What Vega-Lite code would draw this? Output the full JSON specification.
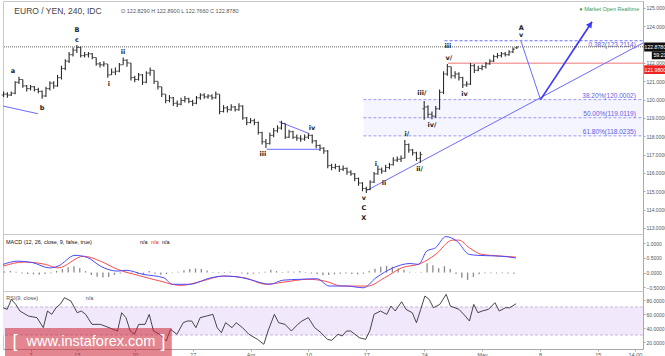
{
"$schema":"https://vega.github.io/schema/vega-lite/v6.json",
"padding":0,
"spacing":0,
"bounds":"flush",
"background":"white",
"config":{
 "font":"Liberation Sans",
 "view":{"stroke":"#c8c8c8","strokeWidth":1},
 "axis":{"labelFont":"Liberation Sans","labelFontSize":5,"labelColor":"#555","domainColor":"#aaa","tickColor":"#aaa","tickSize":2,"labelPadding":1,"grid":false,"zindex":0,"labelOverlap":false,"labelBound":false,"tickCount":50}
},
"datasets":{
 "ohlc":[
{"t":-1.33,"o":120.25,"h":120.45,"l":120.15,"c":120.30},
{"t":-1.00,"o":120.30,"h":120.40,"l":120.10,"c":120.25},
{"t":-0.67,"o":120.25,"h":120.45,"l":120.20,"c":120.35},
{"t":-0.33,"o":120.35,"h":121.00,"l":120.30,"c":120.95},
{"t":0.00,"o":120.95,"h":121.25,"l":120.85,"c":121.10},
{"t":0.33,"o":121.10,"h":121.10,"l":120.65,"c":120.75},
{"t":0.67,"o":120.75,"h":120.80,"l":120.45,"c":120.60},
{"t":1.00,"o":120.60,"h":120.80,"l":120.50,"c":120.70},
{"t":1.33,"o":120.70,"h":120.75,"l":120.45,"c":120.55},
{"t":1.67,"o":120.55,"h":120.65,"l":120.35,"c":120.45},
{"t":2.00,"o":120.45,"h":120.50,"l":120.05,"c":120.20},
{"t":2.33,"o":120.20,"h":120.70,"l":120.15,"c":120.60},
{"t":2.67,"o":120.60,"h":121.00,"l":120.50,"c":120.90},
{"t":3.00,"o":120.90,"h":121.00,"l":120.60,"c":120.75},
{"t":3.33,"o":120.75,"h":121.35,"l":120.70,"c":121.20},
{"t":3.67,"o":121.20,"h":121.85,"l":121.10,"c":121.70},
{"t":4.00,"o":121.70,"h":122.20,"l":121.60,"c":122.10},
{"t":4.33,"o":122.10,"h":122.60,"l":122.00,"c":122.45},
{"t":4.67,"o":122.45,"h":122.85,"l":122.35,"c":122.70},
{"t":5.00,"o":122.70,"h":122.98,"l":122.55,"c":122.85},
{"t":5.33,"o":122.85,"h":122.90,"l":122.30,"c":122.40},
{"t":5.67,"o":122.40,"h":122.60,"l":122.30,"c":122.45},
{"t":6.00,"o":122.45,"h":122.60,"l":122.30,"c":122.50},
{"t":6.33,"o":122.50,"h":122.55,"l":122.20,"c":122.30},
{"t":6.67,"o":122.30,"h":122.30,"l":121.85,"c":121.95},
{"t":7.00,"o":121.95,"h":122.05,"l":121.75,"c":121.90},
{"t":7.33,"o":121.90,"h":122.10,"l":121.80,"c":121.95},
{"t":7.67,"o":121.95,"h":121.95,"l":121.20,"c":121.35},
{"t":8.00,"o":121.35,"h":121.70,"l":121.35,"c":121.50},
{"t":8.33,"o":121.50,"h":121.75,"l":121.35,"c":121.55},
{"t":8.67,"o":121.55,"h":122.00,"l":121.50,"c":121.90},
{"t":9.00,"o":121.90,"h":122.30,"l":121.90,"c":122.15},
{"t":9.33,"o":122.15,"h":122.20,"l":121.80,"c":122.00},
{"t":9.67,"o":122.00,"h":122.00,"l":121.05,"c":121.20},
{"t":10.00,"o":121.20,"h":121.30,"l":120.95,"c":121.10},
{"t":10.33,"o":121.10,"h":121.45,"l":121.05,"c":121.35},
{"t":10.67,"o":121.35,"h":121.40,"l":120.80,"c":120.95},
{"t":11.00,"o":120.95,"h":121.55,"l":120.90,"c":121.45},
{"t":11.33,"o":121.45,"h":121.75,"l":121.30,"c":121.60},
{"t":11.67,"o":121.60,"h":121.60,"l":120.85,"c":121.00},
{"t":12.00,"o":121.00,"h":121.00,"l":120.55,"c":120.70},
{"t":12.33,"o":120.70,"h":120.70,"l":120.15,"c":120.30},
{"t":12.67,"o":120.30,"h":120.30,"l":119.80,"c":119.95},
{"t":13.00,"o":119.95,"h":120.25,"l":119.85,"c":120.10},
{"t":13.33,"o":120.10,"h":120.15,"l":119.65,"c":119.80},
{"t":13.67,"o":119.80,"h":119.95,"l":119.60,"c":119.75},
{"t":14.00,"o":119.75,"h":120.10,"l":119.70,"c":119.95},
{"t":14.33,"o":119.95,"h":120.20,"l":119.85,"c":120.05},
{"t":14.67,"o":120.05,"h":120.10,"l":119.80,"c":119.90},
{"t":15.00,"o":119.90,"h":120.00,"l":119.65,"c":119.80},
{"t":15.33,"o":119.80,"h":120.20,"l":119.75,"c":120.10},
{"t":15.67,"o":120.10,"h":120.35,"l":120.00,"c":120.25},
{"t":16.00,"o":120.25,"h":120.35,"l":120.05,"c":120.15},
{"t":16.33,"o":120.15,"h":120.30,"l":120.05,"c":120.20},
{"t":16.67,"o":120.20,"h":120.30,"l":120.00,"c":120.10},
{"t":17.00,"o":120.10,"h":120.45,"l":120.05,"c":120.30},
{"t":17.33,"o":120.30,"h":120.30,"l":119.20,"c":119.35},
{"t":17.67,"o":119.35,"h":119.70,"l":119.30,"c":119.55},
{"t":18.00,"o":119.55,"h":119.65,"l":119.30,"c":119.45},
{"t":18.33,"o":119.45,"h":119.75,"l":119.40,"c":119.60},
{"t":18.67,"o":119.60,"h":119.65,"l":119.35,"c":119.45},
{"t":19.00,"o":119.45,"h":119.80,"l":119.40,"c":119.65},
{"t":19.33,"o":119.65,"h":119.70,"l":118.90,"c":119.00},
{"t":19.67,"o":119.00,"h":119.05,"l":118.60,"c":118.75},
{"t":20.00,"o":118.75,"h":119.00,"l":118.70,"c":118.85},
{"t":20.33,"o":118.85,"h":118.95,"l":118.60,"c":118.75},
{"t":20.67,"o":118.75,"h":118.80,"l":118.10,"c":118.20},
{"t":21.00,"o":118.20,"h":118.25,"l":117.55,"c":117.70},
{"t":21.33,"o":117.70,"h":117.85,"l":117.36,"c":117.60},
{"t":21.67,"o":117.60,"h":118.20,"l":117.55,"c":118.05},
{"t":22.00,"o":118.05,"h":118.45,"l":117.95,"c":118.30},
{"t":22.33,"o":118.30,"h":118.60,"l":118.20,"c":118.45},
{"t":22.67,"o":118.45,"h":118.85,"l":118.35,"c":118.70},
{"t":23.00,"o":118.70,"h":118.70,"l":117.85,"c":117.95},
{"t":23.33,"o":117.95,"h":118.35,"l":117.90,"c":118.25},
{"t":23.67,"o":118.25,"h":118.30,"l":117.85,"c":117.95},
{"t":24.00,"o":117.95,"h":118.10,"l":117.75,"c":117.90},
{"t":24.33,"o":117.90,"h":118.05,"l":117.70,"c":117.85},
{"t":24.67,"o":117.85,"h":118.10,"l":117.75,"c":117.95},
{"t":25.00,"o":117.95,"h":118.15,"l":117.85,"c":118.05},
{"t":25.33,"o":118.05,"h":118.10,"l":117.60,"c":117.75},
{"t":25.67,"o":117.75,"h":117.80,"l":117.35,"c":117.50},
{"t":26.00,"o":117.50,"h":117.55,"l":117.20,"c":117.35},
{"t":26.33,"o":117.35,"h":117.40,"l":117.05,"c":117.20},
{"t":26.67,"o":117.20,"h":117.25,"l":116.25,"c":116.40},
{"t":27.00,"o":116.40,"h":116.50,"l":116.15,"c":116.30},
{"t":27.33,"o":116.30,"h":116.50,"l":116.20,"c":116.35},
{"t":27.67,"o":116.35,"h":116.40,"l":116.05,"c":116.20},
{"t":28.00,"o":116.20,"h":116.40,"l":116.10,"c":116.25},
{"t":28.33,"o":116.25,"h":116.30,"l":115.90,"c":116.05},
{"t":28.67,"o":116.05,"h":116.15,"l":115.85,"c":115.95},
{"t":29.00,"o":115.95,"h":116.00,"l":115.55,"c":115.70},
{"t":29.33,"o":115.70,"h":115.75,"l":115.30,"c":115.45},
{"t":29.67,"o":115.45,"h":115.50,"l":115.00,"c":115.15},
{"t":30.00,"o":115.15,"h":115.25,"l":114.90,"c":115.10},
{"t":30.33,"o":115.10,"h":115.60,"l":115.05,"c":115.50},
{"t":30.67,"o":115.50,"h":116.05,"l":115.45,"c":115.95},
{"t":31.00,"o":115.95,"h":116.40,"l":115.90,"c":116.20},
{"t":31.33,"o":116.20,"h":116.30,"l":115.95,"c":116.10},
{"t":31.67,"o":116.10,"h":116.45,"l":116.05,"c":116.30},
{"t":32.00,"o":116.30,"h":116.55,"l":116.20,"c":116.45},
{"t":32.33,"o":116.45,"h":116.85,"l":116.40,"c":116.70},
{"t":32.67,"o":116.70,"h":116.90,"l":116.60,"c":116.75},
{"t":33.00,"o":116.75,"h":116.95,"l":116.60,"c":116.80},
{"t":33.33,"o":116.80,"h":117.80,"l":116.80,"c":117.55},
{"t":33.67,"o":117.55,"h":117.60,"l":117.10,"c":117.25},
{"t":34.00,"o":117.25,"h":117.30,"l":116.95,"c":117.10},
{"t":34.33,"o":117.10,"h":117.15,"l":116.65,"c":116.80},
{"t":34.67,"o":116.80,"h":117.15,"l":116.55,"c":117.00},
{"t":35.00,"o":119.50,"h":119.93,"l":118.90,"c":119.60},
{"t":35.33,"o":119.60,"h":119.70,"l":119.00,"c":119.20},
{"t":35.67,"o":119.20,"h":119.35,"l":118.93,"c":119.10},
{"t":36.00,"o":119.10,"h":119.65,"l":119.00,"c":119.50},
{"t":36.33,"o":119.50,"h":120.55,"l":119.45,"c":120.40},
{"t":36.67,"o":120.40,"h":121.55,"l":120.30,"c":121.40},
{"t":37.00,"o":121.40,"h":121.95,"l":121.30,"c":121.80},
{"t":37.33,"o":121.80,"h":121.80,"l":121.15,"c":121.30},
{"t":37.67,"o":121.30,"h":121.55,"l":121.15,"c":121.40},
{"t":38.00,"o":121.40,"h":121.50,"l":121.05,"c":121.20},
{"t":38.33,"o":121.20,"h":121.25,"l":120.64,"c":120.80},
{"t":38.67,"o":120.80,"h":121.00,"l":120.70,"c":120.85},
{"t":39.00,"o":120.85,"h":122.00,"l":120.80,"c":121.85},
{"t":39.33,"o":121.85,"h":121.95,"l":121.45,"c":121.60},
{"t":39.67,"o":121.60,"h":121.85,"l":121.55,"c":121.70},
{"t":40.00,"o":121.70,"h":121.90,"l":121.60,"c":121.80},
{"t":40.33,"o":121.80,"h":122.05,"l":121.70,"c":121.95},
{"t":40.67,"o":121.95,"h":122.20,"l":121.90,"c":122.10},
{"t":41.00,"o":122.10,"h":122.45,"l":122.05,"c":122.35},
{"t":41.33,"o":122.35,"h":122.55,"l":122.25,"c":122.40},
{"t":41.67,"o":122.40,"h":122.60,"l":122.30,"c":122.50},
{"t":42.00,"o":122.50,"h":122.60,"l":122.35,"c":122.45},
{"t":42.33,"o":122.45,"h":122.70,"l":122.40,"c":122.60},
{"t":42.67,"o":122.60,"h":122.85,"l":122.55,"c":122.75},
{"t":43.00,"o":122.829,"h":122.89,"l":122.766,"c":122.878}
 ],
 "trend":[
{"id":"a","t":-1.38,"p":119.65},{"id":"a","t":1.64,"p":119.23},
{"id":"b","t":22.45,"p":118.8},{"id":"b","t":25.1,"p":118.14},
{"id":"c","t":21.4,"p":117.29},{"id":"c","t":25.97,"p":117.29},
{"id":"d","t":29.97,"p":115.02},{"id":"d","t":53.9,"p":123.09},
{"id":"e","t":43.35,"p":123.21},{"id":"e","t":45.05,"p":120.0}
 ],
 "arrow":[{"t":45.05,"p":120.0},{"t":49.5,"p":124.25}],
 "arrowhead":[{"t":49.35,"p":124.11}],
 "fib":[
{"t":29.75,"t2":53.9,"p":120.0002,"tl":53.28,"lab":"38.20%(120.0002)"},
{"t":29.75,"t2":53.9,"p":119.0119,"tl":53.28,"lab":"50.00%(119.0119)"},
{"t":29.75,"t2":53.9,"p":118.0235,"tl":53.28,"lab":"61.80%(118.0235)"}
 ],
 "fibband":[{"t":29.75,"t2":53.9,"p":118.0235,"p2":120.0002}],
 "fib382":[{"t":36.76,"t2":53.9,"p":123.2114,"tl":53.28,"lab":"0.382(123.2114)"}],
 "redline":[{"t":37.05,"t2":53.9,"p":121.98}],
 "curline":[{"p":122.878}],
 "waves":[
{"t":-0.52,"p":121.56,"txt":"a"},{"t":1.99,"p":119.54,"txt":"b"},
{"t":5.01,"p":123.8,"txt":"B"},{"t":5.01,"p":123.25,"txt":"c"},
{"t":7.77,"p":120.87,"txt":"i"},{"t":8.98,"p":122.6,"txt":"ii"},
{"t":21.07,"p":117.05,"txt":"iii"},{"t":25.3,"p":118.45,"txt":"iv"},
{"t":29.79,"p":114.63,"txt":"v"},{"t":29.79,"p":114.09,"txt":"C"},{"t":29.79,"p":113.54,"txt":"X"},
{"t":30.83,"p":116.49,"txt":"i"},{"t":31.52,"p":115.45,"txt":"ii"},
{"t":33.5,"p":118.13,"txt":"i/"},{"t":34.6,"p":116.22,"txt":"ii/"},
{"t":34.8,"p":120.36,"txt":"iii/"},{"t":35.67,"p":118.62,"txt":"iv/"},
{"t":37.13,"p":122.26,"txt":"v/"},{"t":37.05,"p":122.93,"txt":"iii"},
{"t":38.49,"p":120.29,"txt":"iv"},
{"t":43.38,"p":123.89,"txt":"A"},{"t":43.38,"p":123.51,"txt":"v"}
 ],
 "boxes":[
{"t":54.0,"t2":57.0,"p":122.63,"p2":123.11,"tl":54.03,"pm":122.87,"txt":"122.8780","kind":"black"},
{"t":54.66,"t2":57.0,"p":122.2,"p2":122.63,"tl":54.8,"pm":122.42,"txt":"59:21","kind":"black"},
{"t":54.0,"t2":57.0,"p":121.4,"p2":121.88,"tl":54.03,"pm":121.64,"txt":"121.9800","kind":"red"}
 ],
 "macd":[
{"t":-1.38,"v":0.28},{"t":-0.1,"v":0.39},{"t":1.18,"v":0.34},{"t":2.64,"v":0.16},{"t":3.37,"v":0.22},{"t":4.84,"v":0.59},{"t":5.94,"v":0.51},{"t":7.04,"v":0.22},{"t":8.51,"v":0.05},{"t":9.24,"v":0.08},{"t":10.71,"v":-0.06},{"t":12.52,"v":-0.18},{"t":13.26,"v":-0.40},{"t":14.73,"v":-0.40},{"t":16.56,"v":-0.18},{"t":17.66,"v":-0.12},{"t":18.74,"v":-0.14},{"t":19.86,"v":-0.23},{"t":21.68,"v":-0.40},{"t":22.8,"v":-0.26},{"t":24.27,"v":-0.23},{"t":25.73,"v":-0.21},{"t":26.81,"v":-0.46},{"t":28.28,"v":-0.46},{"t":29.75,"v":-0.52},{"t":30.83,"v":-0.18},{"t":32.3,"v":0.16},{"t":33.77,"v":0.31},{"t":34.51,"v":0.28},{"t":35.23,"v":0.74},{"t":35.98,"v":0.85},{"t":36.87,"v":1.23},{"t":37.81,"v":1.08},{"t":38.9,"v":0.62},{"t":39.64,"v":0.59},{"t":41.11,"v":0.57},{"t":42.2,"v":0.54},{"t":42.92,"v":0.50}
 ],
 "signal":[
{"t":-1.38,"v":0.22},{"t":0.43,"v":0.36},{"t":2.28,"v":0.28},{"t":3.37,"v":0.16},{"t":5.58,"v":0.56},{"t":7.04,"v":0.39},{"t":8.51,"v":0.11},{"t":10.34,"v":-0.10},{"t":12.18,"v":-0.29},{"t":13.99,"v":-0.44},{"t":15.8,"v":-0.29},{"t":17.66,"v":-0.12},{"t":19.49,"v":-0.18},{"t":21.33,"v":-0.40},{"t":22.8,"v":-0.33},{"t":24.96,"v":-0.23},{"t":26.42,"v":-0.29},{"t":27.89,"v":-0.46},{"t":30.11,"v":-0.46},{"t":31.58,"v":-0.18},{"t":33.04,"v":0.16},{"t":34.69,"v":0.31},{"t":35.98,"v":0.62},{"t":37.44,"v":1.11},{"t":38.0,"v":1.11},{"t":38.9,"v":0.85},{"t":39.98,"v":0.62},{"t":41.45,"v":0.57},{"t":42.92,"v":0.53}
 ],
 "hist":[
{"t":-1.25,"v":0.04},{"t":-0.75,"v":0.05},{"t":-0.25,"v":0.03},{"t":0.25,"v":-0.03},{"t":0.75,"v":-0.05},{"t":1.25,"v":-0.06},{"t":1.75,"v":-0.07},{"t":2.25,"v":-0.05},{"t":2.75,"v":-0.02},{"t":3.25,"v":0.06},{"t":3.75,"v":0.12},{"t":4.25,"v":0.18},{"t":4.75,"v":0.22},{"t":5.25,"v":0.15},{"t":5.75,"v":0.05},{"t":6.25,"v":-0.08},{"t":6.75,"v":-0.14},{"t":7.25,"v":-0.17},{"t":7.75,"v":-0.15},{"t":8.25,"v":-0.08},{"t":8.75,"v":-0.03},{"t":9.25,"v":0.03},{"t":9.75,"v":-0.02},{"t":10.25,"v":-0.05},{"t":10.75,"v":-0.06},{"t":11.25,"v":0.05},{"t":11.75,"v":-0.04},{"t":12.25,"v":-0.07},{"t":12.75,"v":-0.05},{"t":13.25,"v":-0.02},{"t":13.75,"v":0.03},{"t":14.25,"v":0.08},{"t":14.75,"v":0.12},{"t":15.25,"v":0.14},{"t":15.75,"v":0.12},{"t":16.25,"v":0.07},{"t":16.75,"v":0.02},{"t":17.25,"v":-0.02},{"t":17.75,"v":0.02},{"t":18.25,"v":0.03},{"t":18.75,"v":0.01},{"t":19.25,"v":-0.03},{"t":19.75,"v":-0.06},{"t":20.25,"v":-0.04},{"t":20.75,"v":-0.02},{"t":21.25,"v":0.03},{"t":21.75,"v":0.10},{"t":22.25,"v":0.05},{"t":22.75,"v":0.02},{"t":23.25,"v":0.04},{"t":23.75,"v":0.03},{"t":24.25,"v":0.05},{"t":24.75,"v":0.02},{"t":25.25,"v":-0.03},{"t":25.75,"v":-0.06},{"t":26.25,"v":-0.09},{"t":26.75,"v":-0.08},{"t":27.25,"v":-0.06},{"t":27.75,"v":-0.04},{"t":28.25,"v":-0.03},{"t":28.75,"v":-0.05},{"t":29.25,"v":-0.06},{"t":29.75,"v":-0.04},{"t":30.25,"v":0.05},{"t":30.75,"v":0.13},{"t":31.25,"v":0.20},{"t":31.75,"v":0.23},{"t":32.25,"v":0.20},{"t":32.75,"v":0.14},{"t":33.25,"v":0.10},{"t":33.75,"v":0.03},{"t":34.25,"v":-0.01},{"t":34.75,"v":0.02},{"t":35.25,"v":0.32},{"t":35.75,"v":0.25},{"t":36.25,"v":0.15},{"t":36.75,"v":0.22},{"t":37.25,"v":0.12},{"t":37.75,"v":-0.05},{"t":38.25,"v":-0.18},{"t":38.75,"v":-0.25},{"t":39.25,"v":-0.15},{"t":39.75,"v":-0.06},{"t":40.25,"v":-0.02},{"t":40.75,"v":-0.02},{"t":41.25,"v":-0.03},{"t":41.75,"v":-0.02},{"t":42.25,"v":-0.03},{"t":42.75,"v":-0.04}
 ],
 "rsi":[
{"t":-1.38,"r":69.0},{"t":-1.02,"r":66.7},{"t":-0.65,"r":80.9},{"t":-0.28,"r":73.8},{"t":0.08,"r":64.3},{"t":0.82,"r":57.1},{"t":1.55,"r":54.8},{"t":2.1,"r":40.5},{"t":2.46,"r":64.3},{"t":2.83,"r":59.5},{"t":3.2,"r":69.0},{"t":3.56,"r":73.8},{"t":3.93,"r":83.3},{"t":4.48,"r":78.6},{"t":5.03,"r":61.9},{"t":5.39,"r":64.3},{"t":5.76,"r":59.5},{"t":6.31,"r":45.2},{"t":7.04,"r":45.2},{"t":7.78,"r":40.5},{"t":8.51,"r":35.7},{"t":8.87,"r":61.9},{"t":9.24,"r":54.8},{"t":9.61,"r":35.7},{"t":9.97,"r":31.0},{"t":10.34,"r":45.2},{"t":10.89,"r":45.2},{"t":11.25,"r":59.5},{"t":11.62,"r":35.7},{"t":12.17,"r":31.0},{"t":12.72,"r":21.4},{"t":13.09,"r":38.1},{"t":13.64,"r":31.0},{"t":14.19,"r":47.6},{"t":14.55,"r":50.0},{"t":14.92,"r":50.0},{"t":15.28,"r":40.5},{"t":15.65,"r":54.8},{"t":16.2,"r":57.1},{"t":16.75,"r":59.5},{"t":17.12,"r":40.5},{"t":17.48,"r":33.3},{"t":17.85,"r":47.6},{"t":18.4,"r":40.5},{"t":18.76,"r":47.6},{"t":19.31,"r":40.5},{"t":19.86,"r":31.0},{"t":20.6,"r":23.8},{"t":21.15,"r":16.7},{"t":21.51,"r":35.7},{"t":22.06,"r":59.5},{"t":22.43,"r":47.6},{"t":22.98,"r":45.2},{"t":23.53,"r":35.7},{"t":24.08,"r":45.2},{"t":24.44,"r":50.0},{"t":24.99,"r":54.8},{"t":25.54,"r":40.5},{"t":26.09,"r":33.3},{"t":26.64,"r":23.8},{"t":27.01,"r":22.4},{"t":27.56,"r":31.0},{"t":27.92,"r":28.6},{"t":28.29,"r":35.7},{"t":28.65,"r":35.7},{"t":29.02,"r":31.0},{"t":29.39,"r":26.2},{"t":29.94,"r":23.8},{"t":30.3,"r":35.7},{"t":30.67,"r":59.5},{"t":31.22,"r":64.3},{"t":31.77,"r":59.5},{"t":32.13,"r":71.4},{"t":32.5,"r":64.3},{"t":33.05,"r":77.6},{"t":33.42,"r":66.7},{"t":33.97,"r":61.9},{"t":34.33,"r":47.6},{"t":34.7,"r":66.7},{"t":35.06,"r":85.7},{"t":35.43,"r":80.9},{"t":35.8,"r":69.0},{"t":36.35,"r":73.8},{"t":36.9,"r":88.1},{"t":37.26,"r":71.4},{"t":38.0,"r":66.7},{"t":38.55,"r":57.1},{"t":38.91,"r":50.0},{"t":39.28,"r":73.8},{"t":39.64,"r":61.9},{"t":40.01,"r":64.3},{"t":40.56,"r":66.7},{"t":41.11,"r":76.2},{"t":41.48,"r":64.3},{"t":42.03,"r":69.0},{"t":42.39,"r":69.0},{"t":42.94,"r":74.7}
 ]
},
"vconcat":[
{
 "width":640,"height":233,
 "layer":[
  {"data":{"name":"fibband"},"mark":{"type":"rect","color":"#f5f5ff"},
   "encoding":{"x":{"field":"t","type":"quantitative","scale":{"domain":[-1.38,53.9],"nice":false,"zero":false},"axis":null},"x2":{"field":"t2"},
   "y":{"field":"p","type":"quantitative","scale":{"domain":[112.67,125.38],"nice":false,"zero":false},"axis":{"orient":"right","values":[113,114,115,116,117,118,119,120,121,122,124,125],"tickCount":50,"format":".4f","title":null,"labelOverlap":false}},"y2":{"field":"p2"}}},
  {"data":{"name":"fib"},"mark":{"type":"rule","color":"#9a9af2","strokeDash":[3,2],"strokeWidth":1},
   "encoding":{"x":{"field":"t","type":"quantitative","scale":{"domain":[-1.38,53.9],"nice":false,"zero":false},"axis":null},"x2":{"field":"t2"},"y":{"field":"p","type":"quantitative","scale":{"domain":[112.67,125.38],"nice":false,"zero":false},"title":null}}},
  {"data":{"name":"fib"},"mark":{"type":"text","color":"#6060e0","fontSize":6.5,"align":"right","baseline":"bottom","dy":-0.5},
   "encoding":{"x":{"field":"tl","type":"quantitative","scale":{"domain":[-1.38,53.9],"nice":false,"zero":false},"axis":null},"y":{"field":"p","type":"quantitative","scale":{"domain":[112.67,125.38],"nice":false,"zero":false},"title":null},"text":{"field":"lab"}}},
  {"data":{"name":"fib382"},"mark":{"type":"rule","color":"#6b6bff","strokeDash":[3,2],"strokeWidth":1},
   "encoding":{"x":{"field":"t","type":"quantitative","scale":{"domain":[-1.38,53.9],"nice":false,"zero":false},"axis":null},"x2":{"field":"t2"},"y":{"field":"p","type":"quantitative","scale":{"domain":[112.67,125.38],"nice":false,"zero":false},"title":null}}},
  {"data":{"name":"fib382"},"mark":{"type":"text","color":"#6060e0","fontSize":6.5,"align":"right","baseline":"top","dy":1},
   "encoding":{"x":{"field":"tl","type":"quantitative","scale":{"domain":[-1.38,53.9],"nice":false,"zero":false},"axis":null},"y":{"field":"p","type":"quantitative","scale":{"domain":[112.67,125.38],"nice":false,"zero":false},"title":null},"text":{"field":"lab"}}},
  {"data":{"name":"curline"},"mark":{"type":"rule","color":"#666","strokeDash":[1,1],"strokeWidth":1},
   "encoding":{"y":{"field":"p","type":"quantitative","scale":{"domain":[112.67,125.38],"nice":false,"zero":false},"title":null}}},
  {"data":{"name":"redline"},"mark":{"type":"rule","color":"#f4a4a4","strokeWidth":1.5},
   "encoding":{"x":{"field":"t","type":"quantitative","scale":{"domain":[-1.38,53.9],"nice":false,"zero":false},"axis":null},"x2":{"field":"t2"},"y":{"field":"p","type":"quantitative","scale":{"domain":[112.67,125.38],"nice":false,"zero":false},"title":null}}},
  {"data":{"name":"trend"},"mark":{"type":"line","color":"#6b6bff","strokeWidth":1},
   "encoding":{"x":{"field":"t","type":"quantitative","scale":{"domain":[-1.38,53.9],"nice":false,"zero":false},"axis":null},"y":{"field":"p","type":"quantitative","scale":{"domain":[112.67,125.38],"nice":false,"zero":false},"title":null},"detail":{"field":"id"}}},
  {"data":{"name":"arrow"},"mark":{"type":"line","color":"#3b3bf0","strokeWidth":1.7},
   "encoding":{"x":{"field":"t","type":"quantitative","scale":{"domain":[-1.38,53.9],"nice":false,"zero":false},"axis":null},"y":{"field":"p","type":"quantitative","scale":{"domain":[112.67,125.38],"nice":false,"zero":false},"title":null}}},
  {"data":{"name":"arrowhead"},"mark":{"type":"point","shape":"triangle-up","angle":33.7,"size":45,"filled":true,"color":"#3b3bf0","opacity":1},
   "encoding":{"x":{"field":"t","type":"quantitative","scale":{"domain":[-1.38,53.9],"nice":false,"zero":false},"axis":null},"y":{"field":"p","type":"quantitative","scale":{"domain":[112.67,125.38],"nice":false,"zero":false},"title":null}}},
  {"data":{"name":"ohlc"},"mark":{"type":"rule","color":"#2a2a2a","strokeWidth":1.1},
   "encoding":{"x":{"field":"t","type":"quantitative","scale":{"domain":[-1.38,53.9],"nice":false,"zero":false},"axis":null},"y":{"field":"l","type":"quantitative","scale":{"domain":[112.67,125.38],"nice":false,"zero":false},"title":null},"y2":{"field":"h"}}},
  {"data":{"name":"ohlc"},"mark":{"type":"tick","orient":"horizontal","color":"#2a2a2a","size":2,"thickness":1,"xOffset":-1},
   "encoding":{"x":{"field":"t","type":"quantitative","scale":{"domain":[-1.38,53.9],"nice":false,"zero":false},"axis":null},"y":{"field":"o","type":"quantitative","scale":{"domain":[112.67,125.38],"nice":false,"zero":false},"title":null}}},
  {"data":{"name":"ohlc"},"mark":{"type":"tick","orient":"horizontal","color":"#2a2a2a","size":2,"thickness":1,"xOffset":1},
   "encoding":{"x":{"field":"t","type":"quantitative","scale":{"domain":[-1.38,53.9],"nice":false,"zero":false},"axis":null},"y":{"field":"c","type":"quantitative","scale":{"domain":[112.67,125.38],"nice":false,"zero":false},"title":null}}},
  {"data":{"name":"waves"},"mark":{"type":"text","font":"DejaVu Sans","fontSize":6.5,"fontWeight":"bold","color":"#222222","align":"center","baseline":"middle"},
   "encoding":{"x":{"field":"t","type":"quantitative","scale":{"domain":[-1.38,53.9],"nice":false,"zero":false},"axis":null},"y":{"field":"p","type":"quantitative","scale":{"domain":[112.67,125.38],"nice":false,"zero":false},"title":null},"text":{"field":"txt"}}},
  {"data":{"values":[{"t":-0.4,"p":124.84,"txt":"EURO / YEN, 240, IDC"}]},"mark":{"type":"text","fontSize":8.5,"color":"#444","align":"left","baseline":"middle"},
   "encoding":{"x":{"field":"t","type":"quantitative","scale":{"domain":[-1.38,53.9],"nice":false,"zero":false},"axis":null},"y":{"field":"p","type":"quantitative","scale":{"domain":[112.67,125.38],"nice":false,"zero":false},"title":null},"text":{"field":"txt"}}},
  {"data":{"values":[{"t":8.81,"p":124.84,"txt":"O 122.8290  H 122.8900  L 122.7660  C 122.8780"}]},"mark":{"type":"text","fontSize":5.5,"color":"#555","align":"left","baseline":"middle"},
   "encoding":{"x":{"field":"t","type":"quantitative","scale":{"domain":[-1.38,53.9],"nice":false,"zero":false},"axis":null},"y":{"field":"p","type":"quantitative","scale":{"domain":[112.67,125.38],"nice":false,"zero":false},"title":null},"text":{"field":"txt"}}},
  {"data":{"values":[{"t":48.4,"p":124.93,"txt":"● Market Open Realtime"}]},"mark":{"type":"text","fontSize":5.5,"color":"#3a9a5a","align":"left","baseline":"middle"},
   "encoding":{"x":{"field":"t","type":"quantitative","scale":{"domain":[-1.38,53.9],"nice":false,"zero":false},"axis":null},"y":{"field":"p","type":"quantitative","scale":{"domain":[112.67,125.38],"nice":false,"zero":false},"title":null},"text":{"field":"txt"}}},
  {"data":{"name":"boxes"},"mark":{"type":"rect"},
   "encoding":{"x":{"field":"t","type":"quantitative","scale":{"domain":[-1.38,53.9],"nice":false,"zero":false},"axis":null},"x2":{"field":"t2"},"y":{"field":"p","type":"quantitative","scale":{"domain":[112.67,125.38],"nice":false,"zero":false},"title":null},"y2":{"field":"p2"},
   "color":{"field":"kind","type":"nominal","scale":{"domain":["black","red"],"range":["#111111","#ee2222"]},"legend":null}}},
  {"data":{"name":"boxes"},"mark":{"type":"text","fontSize":5.2,"color":"white","align":"left","baseline":"middle"},
   "encoding":{"x":{"field":"tl","type":"quantitative","scale":{"domain":[-1.38,53.9],"nice":false,"zero":false},"axis":null},"y":{"field":"pm","type":"quantitative","scale":{"domain":[112.67,125.38],"nice":false,"zero":false},"title":null},"text":{"field":"txt"}}}
 ]
},
{
 "width":640,"height":57,
 "layer":[
  {"data":{"name":"hist"},"mark":{"type":"rule","color":"#8a8a8a","strokeWidth":1.3},
   "encoding":{"x":{"field":"t","type":"quantitative","scale":{"domain":[-1.38,53.9],"nice":false,"zero":false},"axis":null},
   "y":{"field":"v","type":"quantitative","scale":{"domain":[-0.63,1.32],"nice":false,"zero":false},"axis":{"orient":"right","values":[-0.5,0,0.5,1],"tickCount":50,"format":".4f","title":null,"labelOverlap":false}},"y2":{"datum":0}}},
  {"data":{"name":"signal"},"mark":{"type":"line","color":"#ff4a4a","strokeWidth":1,"interpolate":"monotone"},
   "encoding":{"x":{"field":"t","type":"quantitative","scale":{"domain":[-1.38,53.9],"nice":false,"zero":false},"axis":null},"y":{"field":"v","type":"quantitative","scale":{"domain":[-0.63,1.32],"nice":false,"zero":false},"title":null}}},
  {"data":{"name":"macd"},"mark":{"type":"line","color":"#4a4aff","strokeWidth":1,"interpolate":"monotone"},
   "encoding":{"x":{"field":"t","type":"quantitative","scale":{"domain":[-1.38,53.9],"nice":false,"zero":false},"axis":null},"y":{"field":"v","type":"quantitative","scale":{"domain":[-0.63,1.32],"nice":false,"zero":false},"title":null}}},
  {"data":{"values":[{"t":-1.12,"v":1.04,"txt":"MACD (12, 26, close, 9, false, true)","k":"a"},{"t":10.45,"v":1.04,"txt":"n/a","k":"a"},{"t":11.4,"v":1.04,"txt":"n/a","k":"b"},{"t":12.35,"v":1.04,"txt":"n/a","k":"c"}]},
   "mark":{"type":"text","fontSize":5.5,"align":"left","baseline":"middle"},
   "encoding":{"x":{"field":"t","type":"quantitative","scale":{"domain":[-1.38,53.9],"nice":false,"zero":false},"axis":null},"y":{"field":"v","type":"quantitative","scale":{"domain":[-0.63,1.32],"nice":false,"zero":false},"title":null},"text":{"field":"txt"},
   "color":{"field":"k","type":"nominal","scale":{"domain":["a","b","c"],"range":["#555555","#4a4aff","#ff4a4a"]},"legend":null}}}
 ]
},
{
 "width":640,"height":58,
 "layer":[
  {"data":{"values":[{"t":-1.38,"t2":53.9,"r":30,"r2":70}]},"mark":{"type":"rect","color":"#f2e8fb"},
   "encoding":{"x":{"field":"t","type":"quantitative","scale":{"domain":[-1.38,53.9],"nice":false,"zero":false},
   "axis":{"orient":"bottom","values":[1,5,10,15,20,25,30,35,40,45,50,53.2],"tickCount":50,"labelExpr":"datum.value==1?'7':datum.value==5?'13':datum.value==10?'20':datum.value==15?'27':datum.value==20?'Apr':datum.value==25?'10':datum.value==30?'17':datum.value==35?'24':datum.value==40?'May':datum.value==45?'8':datum.value==50?'15':'14:00'","labelOverlap":false,"labelFlush":false,"title":null,"tickSize":2,"labelPadding":1,"labelFontSize":5.5}},"x2":{"field":"t2"},
   "y":{"field":"r","type":"quantitative","scale":{"domain":[10,92.9],"nice":false,"zero":false},"axis":{"orient":"right","values":[20,40,60,80],"tickCount":50,"format":".4f","title":null,"labelOverlap":false}},"y2":{"field":"r2"}}},
  {"data":{"values":[{"r":30},{"r":70}]},"mark":{"type":"rule","color":"#c9b6dc","strokeDash":[3,2],"strokeWidth":1},
   "encoding":{"y":{"field":"r","type":"quantitative","scale":{"domain":[10,92.9],"nice":false,"zero":false},"title":null}}},
  {"data":{"name":"rsi"},"mark":{"type":"line","color":"#333","strokeWidth":0.9},
   "encoding":{"x":{"field":"t","type":"quantitative","scale":{"domain":[-1.38,53.9],"nice":false,"zero":false},"title":null},"y":{"field":"r","type":"quantitative","scale":{"domain":[10,92.9],"nice":false,"zero":false},"title":null}}},
  {"data":{"values":[{"t":-1.09,"r":82.4,"txt":"RSI(9, close)"},{"t":5.76,"r":82.4,"txt":"n/a"}]},"mark":{"type":"text","fontSize":5.5,"color":"#555","align":"left","baseline":"middle"},
   "encoding":{"x":{"field":"t","type":"quantitative","scale":{"domain":[-1.38,53.9],"nice":false,"zero":false},"title":null},"y":{"field":"r","type":"quantitative","scale":{"domain":[10,92.9],"nice":false,"zero":false},"title":null},"text":{"field":"txt"}}},
  {"data":{"values":[{"t":-1.21,"t2":13.2,"r":0,"r2":40}]},"mark":{"type":"rect","color":"#cc2233","opacity":0.55},
   "encoding":{"x":{"field":"t","type":"quantitative","scale":{"domain":[-1.38,53.9],"nice":false,"zero":false},"title":null},"x2":{"field":"t2"},"y":{"field":"r","type":"quantitative","scale":{"domain":[10,92.9],"nice":false,"zero":false},"title":null},"y2":{"field":"r2"}}},
  {"data":{"values":[{"t":6.22,"r":20,"txt":"www.instaforex.com"}]},"mark":{"type":"text","fontSize":14.5,"color":"white","align":"center","baseline":"middle"},
   "encoding":{"x":{"field":"t","type":"quantitative","scale":{"domain":[-1.38,53.9],"nice":false,"zero":false},"title":null},"y":{"field":"r","type":"quantitative","scale":{"domain":[10,92.9],"nice":false,"zero":false},"title":null},"text":{"field":"txt"}}},
  {"data":{"values":[{"t":-0.35,"r":20,"txt":"["},{"t":12.44,"r":20,"txt":"]"}]},"mark":{"type":"text","fontSize":18,"fontWeight":"lighter","color":"white","align":"center","baseline":"middle"},
   "encoding":{"x":{"field":"t","type":"quantitative","scale":{"domain":[-1.38,53.9],"nice":false,"zero":false},"title":null},"y":{"field":"r","type":"quantitative","scale":{"domain":[10,92.9],"nice":false,"zero":false},"title":null},"text":{"field":"txt"}}}
 ]
}
]
}
